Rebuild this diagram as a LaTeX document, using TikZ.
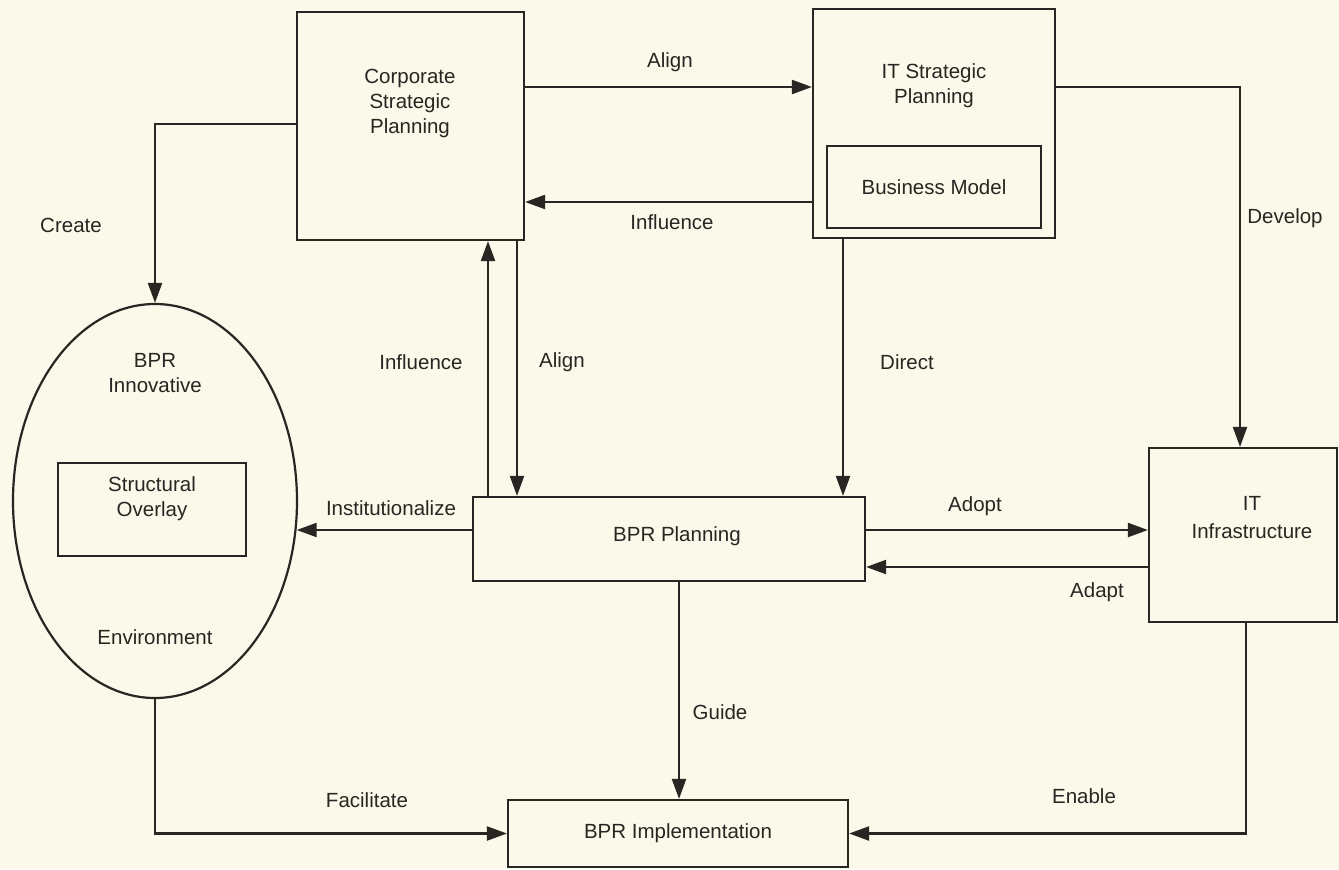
\documentclass[tikz,border=0pt]{standalone}
\usepackage{fontspec}
\setmainfont{Liberation Sans}
\usetikzlibrary{arrows.meta,shapes.geometric}
\definecolor{paper}{RGB}{251,249,233}
\definecolor{ink}{RGB}{40,38,34}
\begin{document}
\begin{tikzpicture}[x=0.5pt,y=-0.5pt,
  every node/.style={text=ink, font=\fontsize{10.25}{12.5}\selectfont},
  box/.style={draw=ink, line width=1.1pt, inner sep=0pt, align=center},
  lbl/.style={inner sep=0pt, align=center},
  conn/.style={draw=ink, line width=1.1pt},
  arr/.style={conn, -{Triangle[length=10pt,width=7pt]}},
]
% page
\fill[paper] (0,0) rectangle (1339,869);
\useasboundingbox (0,0) rectangle (1339,869);

% boxes
\node[box, minimum width=113.5pt, minimum height=114pt] (csp) at (410.5,126) {};
\node[lbl] (csp-t) at (410,103) {Corporate\\Strategic\\Planning};

\node[box, minimum width=121pt, minimum height=114.5pt] (its) at (934,123.5) {};
\node[lbl] (its-t) at (934,86) {IT Strategic\\Planning};
\node[box, minimum width=107pt, minimum height=41pt] (bm) at (934,187) {Business Model};

\node[box, ellipse, minimum width=142pt, minimum height=197pt] (inno) at (155,501) {};
\node[lbl] (inno-t) at (155,373) {BPR\\Innovative};
\node[box, minimum width=94pt, minimum height=46.5pt] (so) at (152,509.5) {};
\node[lbl] (so-t) at (152,499) {Structural\\Overlay};
\node[lbl] (env) at (155,637) {Environment};

\node[box, minimum width=196pt, minimum height=42pt] (bp) at (669,539) {};
\node[lbl] (bp-t) at (677,536) {BPR Planning};

\node[box, minimum width=94pt, minimum height=87pt] (iti) at (1243,535) {};
\node[lbl, font=\fontsize{10.25}{14}\selectfont] (iti-t) at (1252,518) {IT\\Infrastructure};

\node[box, minimum width=170pt, minimum height=33.5pt] (impl) at (678,833.5) {BPR Implementation};

% connector levels
\coordinate (yA) at (0,87);
\coordinate (yI) at (0,202);
\coordinate (yC) at (0,124);
\coordinate (yAdo) at (0,530);
\coordinate (yAda) at (0,567);
\coordinate (xIu) at (488,0);
\coordinate (xAd) at (517,0);
\coordinate (xD) at (843,0);
\coordinate (xG) at (679,0);

% connectors
\draw[arr] (csp.east |- yA) -- (its.west |- yA);
\draw[arr] (its.west |- yI) -- (csp.east |- yI);
\draw[arr] (its.east |- yA) -| ([xshift=-1.5pt]iti.north);
\draw[arr] (csp.west |- yC) -| (inno.north);
\draw[arr] (xIu |- bp.north) -- (xIu |- csp.south);
\draw[arr] (xAd |- csp.south) -- (xAd |- bp.north);
\draw[arr] (xD |- its.south) -- (xD |- bp.north);
\draw[arr] (bp.west |- yAdo) -- (inno.-11.7 |- yAdo);
\draw[arr] (bp.east |- yAdo) -- (iti.west |- yAdo);
\draw[arr] (iti.west |- yAda) -- (bp.east |- yAda);
\draw[arr] (xG |- bp.south) -- (xG |- impl.north);
\draw[arr] (inno.south) |- (impl.west);
\draw[arr] ([xshift=1.5pt]iti.south) |- (impl.east);

% connector labels
\node[lbl] (l-align1) at (670,62) {Align};
\node[lbl] (l-infl1) at (672,222) {Influence};
\node[lbl] (l-dev) at (1285,218) {Develop};
\node[lbl] (l-create) at (71,225) {Create};
\node[lbl] (l-infl2) at (421,362) {Influence};
\node[lbl] (l-align2) at (562,362) {Align};
\node[lbl] (l-direct) at (907,362) {Direct};
\node[lbl] (l-inst) at (391,508) {Institutionalize};
\node[lbl] (l-adopt) at (975,506) {Adopt};
\node[lbl] (l-adapt) at (1097,592) {Adapt};
\node[lbl] (l-guide) at (720,712) {Guide};
\node[lbl] (l-fac) at (367,800) {Facilitate};
\node[lbl] (l-enable) at (1084,796) {Enable};
\end{tikzpicture}
\end{document}
